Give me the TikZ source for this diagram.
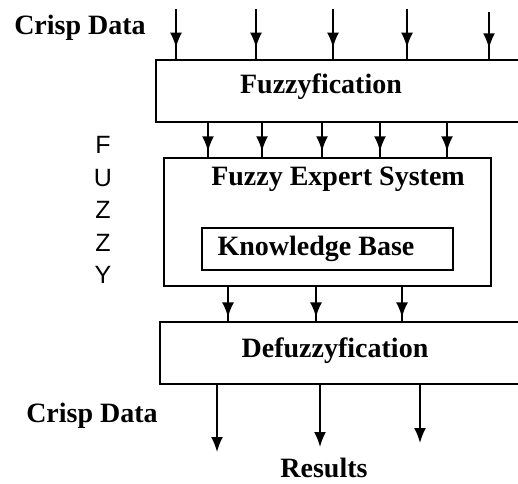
\documentclass[tikz,border=0pt]{standalone}
\usepackage{fontspec}
\setmainfont{Liberation Serif}
\newfontfamily\lettersfont{Liberation Sans}
\usepackage{tikz}
\usetikzlibrary{arrows.meta, decorations.markings}

\tikzset{
  block/.style={draw, line width=0.9pt, inner sep=0pt},
  title/.style={font=\fontsize{14}{16}\selectfont\bfseries},
  feed/.style={line width=0.9pt, decoration={markings,
      mark=at position #1 with {\arrow{Latex[length=7.5pt, width=6pt]}}},
    postaction={decorate}},
  result/.style={line width=0.9pt, -{Latex[length=7.5pt, width=6pt]}}
}

\begin{document}
\begin{tikzpicture}[x=0.5pt, y=-0.5pt]
    \clip (0,0) rectangle (518,483);
    % stages
    \node[block, minimum width=202pt, minimum height=31pt] (fuzz) at (358,91) {};
    \node[title] (fuzzlbl) at (321,87) {Fuzzyfication};
    \node[block, minimum width=163.5pt, minimum height=64pt] (expert) at (327.5,222) {};
    \node[title] (expertlbl) at (338,179) {Fuzzy Expert System};
    \node[block, minimum width=125.5pt, minimum height=21pt] (kb) at (327.5,249) {};
    \node[title] (kblbl) at (316,249) {Knowledge Base};
    \node[block, minimum width=200pt, minimum height=31pt] (defuzz) at (360,353) {};
    \node[title] (defuzzlbl) at (335,351) {Defuzzyfication};
    % side texts
    \node[title] (crispin) at (80,28) {Crisp Data};
    \node[title] (crispout) at (92,416) {Crisp Data};
    \node[title] (results) at (324,468) {Results};
    \node[font=\lettersfont\fontsize{12.5}{16.25}\selectfont, align=center] (fuzzy) at (103,210) {F\\U\\Z\\Z\\Y};
    % inputs
    \foreach \x/\y [count=\i] in {176/9, 256/9, 333/9, 407/9, 489/12} {
        \coordinate (in\i) at (\x,\y);
        \draw[feed=0.77] (in\i) -- (in\i |- fuzz.north);
    }
    % fuzzy values
    \foreach \x [count=\i] in {208, 262, 322, 380, 447} {
        \coordinate (m\i) at (\x,140);
        \draw[feed=0.83] (fuzz.south -| m\i) -- (expert.north -| m\i);
    }
    % conclusions
    \foreach \x [count=\i] in {228, 316, 402} {
        \coordinate (c\i) at (\x,300);
        \draw[feed=0.89] (expert.south -| c\i) -- (defuzz.north -| c\i);
    }
    % outputs
    \foreach \x/\y [count=\i] in {217/452, 320/447, 420/443} {
        \coordinate (out\i) at (\x,\y);
        \draw[result] (defuzz.south -| out\i) -- (out\i);
    }
\end{tikzpicture}
\end{document}
